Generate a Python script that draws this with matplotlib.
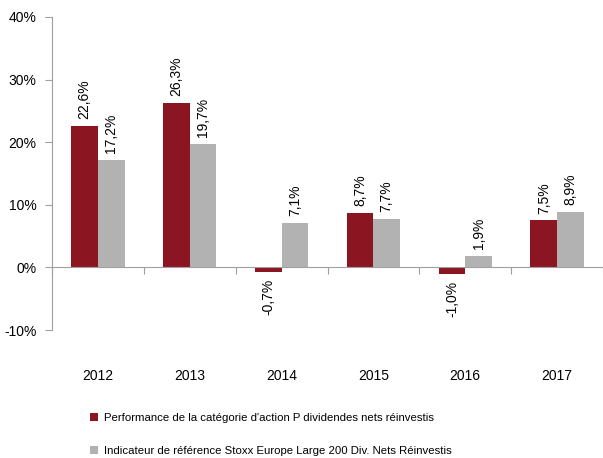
import matplotlib
matplotlib.use("Agg")
import matplotlib.pyplot as plt
from matplotlib.patches import Patch
import numpy as np

years = ["2012", "2013", "2014", "2015", "2016", "2017"]
perf_p = [22.6, 26.3, -0.7, 8.7, -1.0, 7.5]
bench = [17.2, 19.7, 7.1, 7.7, 1.9, 8.9]
series_names = ["Performance de la catégorie d'action P dividendes nets réinvestis",
                "Indicateur de référence Stoxx Europe Large 200 Div. Nets Réinvestis"]
yticks = [-10, 0, 10, 20, 30, 40]

RED = "#8B1520"
GRAY = "#B2B2B2"
AXC = "#A0A0A0"
plt.rcParams['font.family'] = ['Liberation Sans', 'DejaVu Sans']

fig = plt.figure(figsize=(6.03, 4.58), dpi=100)
ax = fig.add_axes([52/603, 1-330/458, 551/603, 313/458])

x = np.arange(len(years))
w = 0.29
ax.bar(x - w/2, perf_p, w, color=RED)
ax.bar(x + w/2, bench, w, color=GRAY)

def fmt(v):
    return f"{v:.1f}".replace(".", ",") + "%"

for xs, vals in ((x - w/2, perf_p), (x + w/2, bench)):
    for xi, v in zip(xs, vals):
        if v >= 0:
            ax.annotate(fmt(v), (xi, v), xytext=(0, 5), textcoords="offset points",
                        rotation=90, ha="center", va="bottom", fontsize=10)
        else:
            ax.annotate(fmt(v), (xi, v), xytext=(0, -5), textcoords="offset points",
                        rotation=90, ha="center", va="top", fontsize=10)

ax.set_xlim(-0.5, 5.5)
ax.set_ylim(-10, 40)
ax.set_yticks(yticks)
ax.set_yticklabels([f"{t}%" for t in yticks], fontsize=10)
ax.tick_params(axis="y", direction="out", length=5, color=AXC, pad=6)

for s in ("top", "right"):
    ax.spines[s].set_visible(False)
ax.spines["left"].set_color(AXC)
ax.spines["bottom"].set_position(("data", 0))
ax.spines["bottom"].set_color(AXC)
ax.set_xticks(np.arange(-0.5, 6.0, 1.0))
ax.set_xticklabels([])
ax.tick_params(axis="x", direction="out", length=5, color=AXC)

for xi, yr in zip(x, years):
    ax.annotate(yr, (xi, 0), xycoords=("data", "axes fraction"), xytext=(0, -33),
                textcoords="offset points", ha="center", va="center", fontsize=10)

handles = [Patch(facecolor=RED), Patch(facecolor=GRAY)]
fig.legend(handles, series_names, loc="upper left", bbox_to_anchor=(80/603, 1-403/458),
           frameon=False, fontsize=8.2, handlelength=0.7, handleheight=0.7,
           handletextpad=0.5, labelspacing=2.0)

fig.savefig("out.png", dpi=100)
